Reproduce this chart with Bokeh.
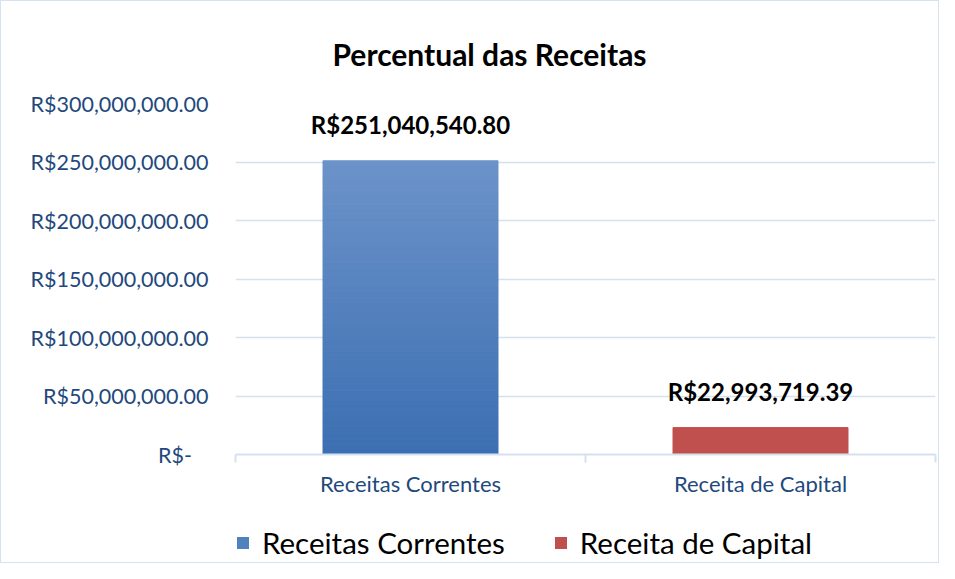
from bokeh.plotting import figure
from bokeh.models import FixedTicker, Legend, LegendItem
from bokeh.layouts import column
from bokeh.embed import file_html
from bokeh.resources import INLINE
from bokeh.core.properties import value

title_text = "Percentual das Receitas"
categories = ["Receitas Correntes", "Receita de Capital"]
values = [251040540.80, 22993719.39]
y_ticks = [0, 50000000, 100000000, 150000000, 200000000, 250000000, 300000000]
y_tick_labels = ["R$-\u00a0\u00a0\u00a0", "R$50,000,000.00", "R$100,000,000.00", "R$150,000,000.00",
                 "R$200,000,000.00", "R$250,000,000.00", "R$300,000,000.00"]

BLUE = "#4f81bd"
RED = "#c0504d"
GRID = "#d5e1f0"
TXT_BLUE = "#1f497d"
FONT = "Lato"

x_pos = [i + 0.5 for i in range(len(categories))]

p = figure(width=937, height=505, x_range=(0, len(categories)), y_range=(0, y_ticks[-1]),
           title=title_text, output_backend="svg", toolbar_location=None,
           min_border_left=234, min_border_right=3, min_border_top=101, min_border_bottom=52)
p.outline_line_color = None
p.xgrid.grid_line_color = None
p.ygrid.grid_line_color = GRID
p.ygrid.grid_line_width = 1.5
p.ygrid.ticker = FixedTicker(ticks=y_ticks)

p.title.align = "left"
p.title.offset = 97
p.title.standoff = 64
p.title.text_font = FONT
p.title.text_font_style = "bold"
p.title.text_font_size = "30px"
p.title.text_color = "black"

# y axis
p.yaxis.ticker = FixedTicker(ticks=y_ticks)
p.yaxis.major_label_overrides = dict(zip(y_ticks, y_tick_labels))
p.yaxis.axis_line_color = None
p.yaxis.major_tick_line_color = None
p.yaxis.major_tick_out = 0
p.yaxis.minor_tick_line_color = None
p.yaxis.major_label_text_color = TXT_BLUE
p.yaxis.major_label_text_font = FONT
p.yaxis.major_label_text_font_size = "21.5px"
p.yaxis.major_label_standoff = 27

# x axis
p.xaxis.ticker = FixedTicker(ticks=x_pos, minor_ticks=list(range(len(categories) + 1)))
p.xaxis.major_label_overrides = dict(zip(x_pos, categories))
p.xaxis.axis_line_color = GRID
p.xaxis.axis_line_width = 2
p.xaxis.major_tick_line_color = None
p.xaxis.major_tick_out = 0
p.xaxis.minor_tick_line_color = GRID
p.xaxis.minor_tick_line_width = 2
p.xaxis.minor_tick_in = 0
p.xaxis.minor_tick_out = 8
p.xaxis.major_label_text_color = TXT_BLUE
p.xaxis.major_label_text_font = FONT
p.xaxis.major_label_text_font_size = "22px"
p.xaxis.major_label_standoff = 7

# gradient blue bar built from slices of its value
def lerp(c1, c2, t):
    a = [int(c1[i:i + 2], 16) for i in (1, 3, 5)]
    b = [int(c2[i:i + 2], 16) for i in (1, 3, 5)]
    return "#%02x%02x%02x" % tuple(round(a[k] + (b[k] - a[k]) * t) for k in range(3))

N = 60
v0 = values[0]
bots = [v0 * i / N for i in range(N)]
tops = [v0 * (i + 1) / N for i in range(N)]
cols = [lerp("#3c6fb2", "#6c93c9", (i + 0.5) / N) for i in range(N)]
p.vbar(x=[x_pos[0]] * N, bottom=bots, top=tops, width=0.5, fill_color=cols, line_color=cols, line_width=1)
p.vbar(x=[x_pos[1]], top=[values[1]], width=0.5, fill_color=RED, line_color=RED)

# data labels
labels = ["R$" + format(v, ",.2f") for v in values]
p.text(x=x_pos, y=values, text=labels, y_offset=-36, text_align="center", text_baseline="middle",
       text_font=value(FONT), text_font_style="bold", text_font_size="24px", text_color="black")

# legend strip below the chart
q = figure(width=937, height=56, x_range=(0, 1), y_range=(1, 2), output_backend="svg",
           toolbar_location=None, min_border=0)
q.axis.visible = False
q.grid.grid_line_color = None
q.outline_line_color = None
r_leg1 = q.vbar(x=[0.5], top=[0], bottom=[0], width=0.1, fill_color=BLUE, line_color=None)
r_leg2 = q.vbar(x=[0.5], top=[0], bottom=[0], width=0.1, fill_color=RED, line_color=None)
legend = Legend(items=[LegendItem(label=categories[0], renderers=[r_leg1]),
                       LegendItem(label=categories[1], renderers=[r_leg2])],
                location=(0, 2), orientation="horizontal",
                glyph_width=15, glyph_height=15, label_standoff=12, spacing=48,
                padding=0, margin=0, border_line_color=None, background_fill_alpha=0,
                label_text_font=FONT, label_text_font_size="29.5px", label_text_color="black")
q.add_layout(legend)

layout = column(p, q, spacing=0, styles={"border": "1px solid #d6e2f0"})

open("out.html", "w").write(file_html(layout, INLINE))
